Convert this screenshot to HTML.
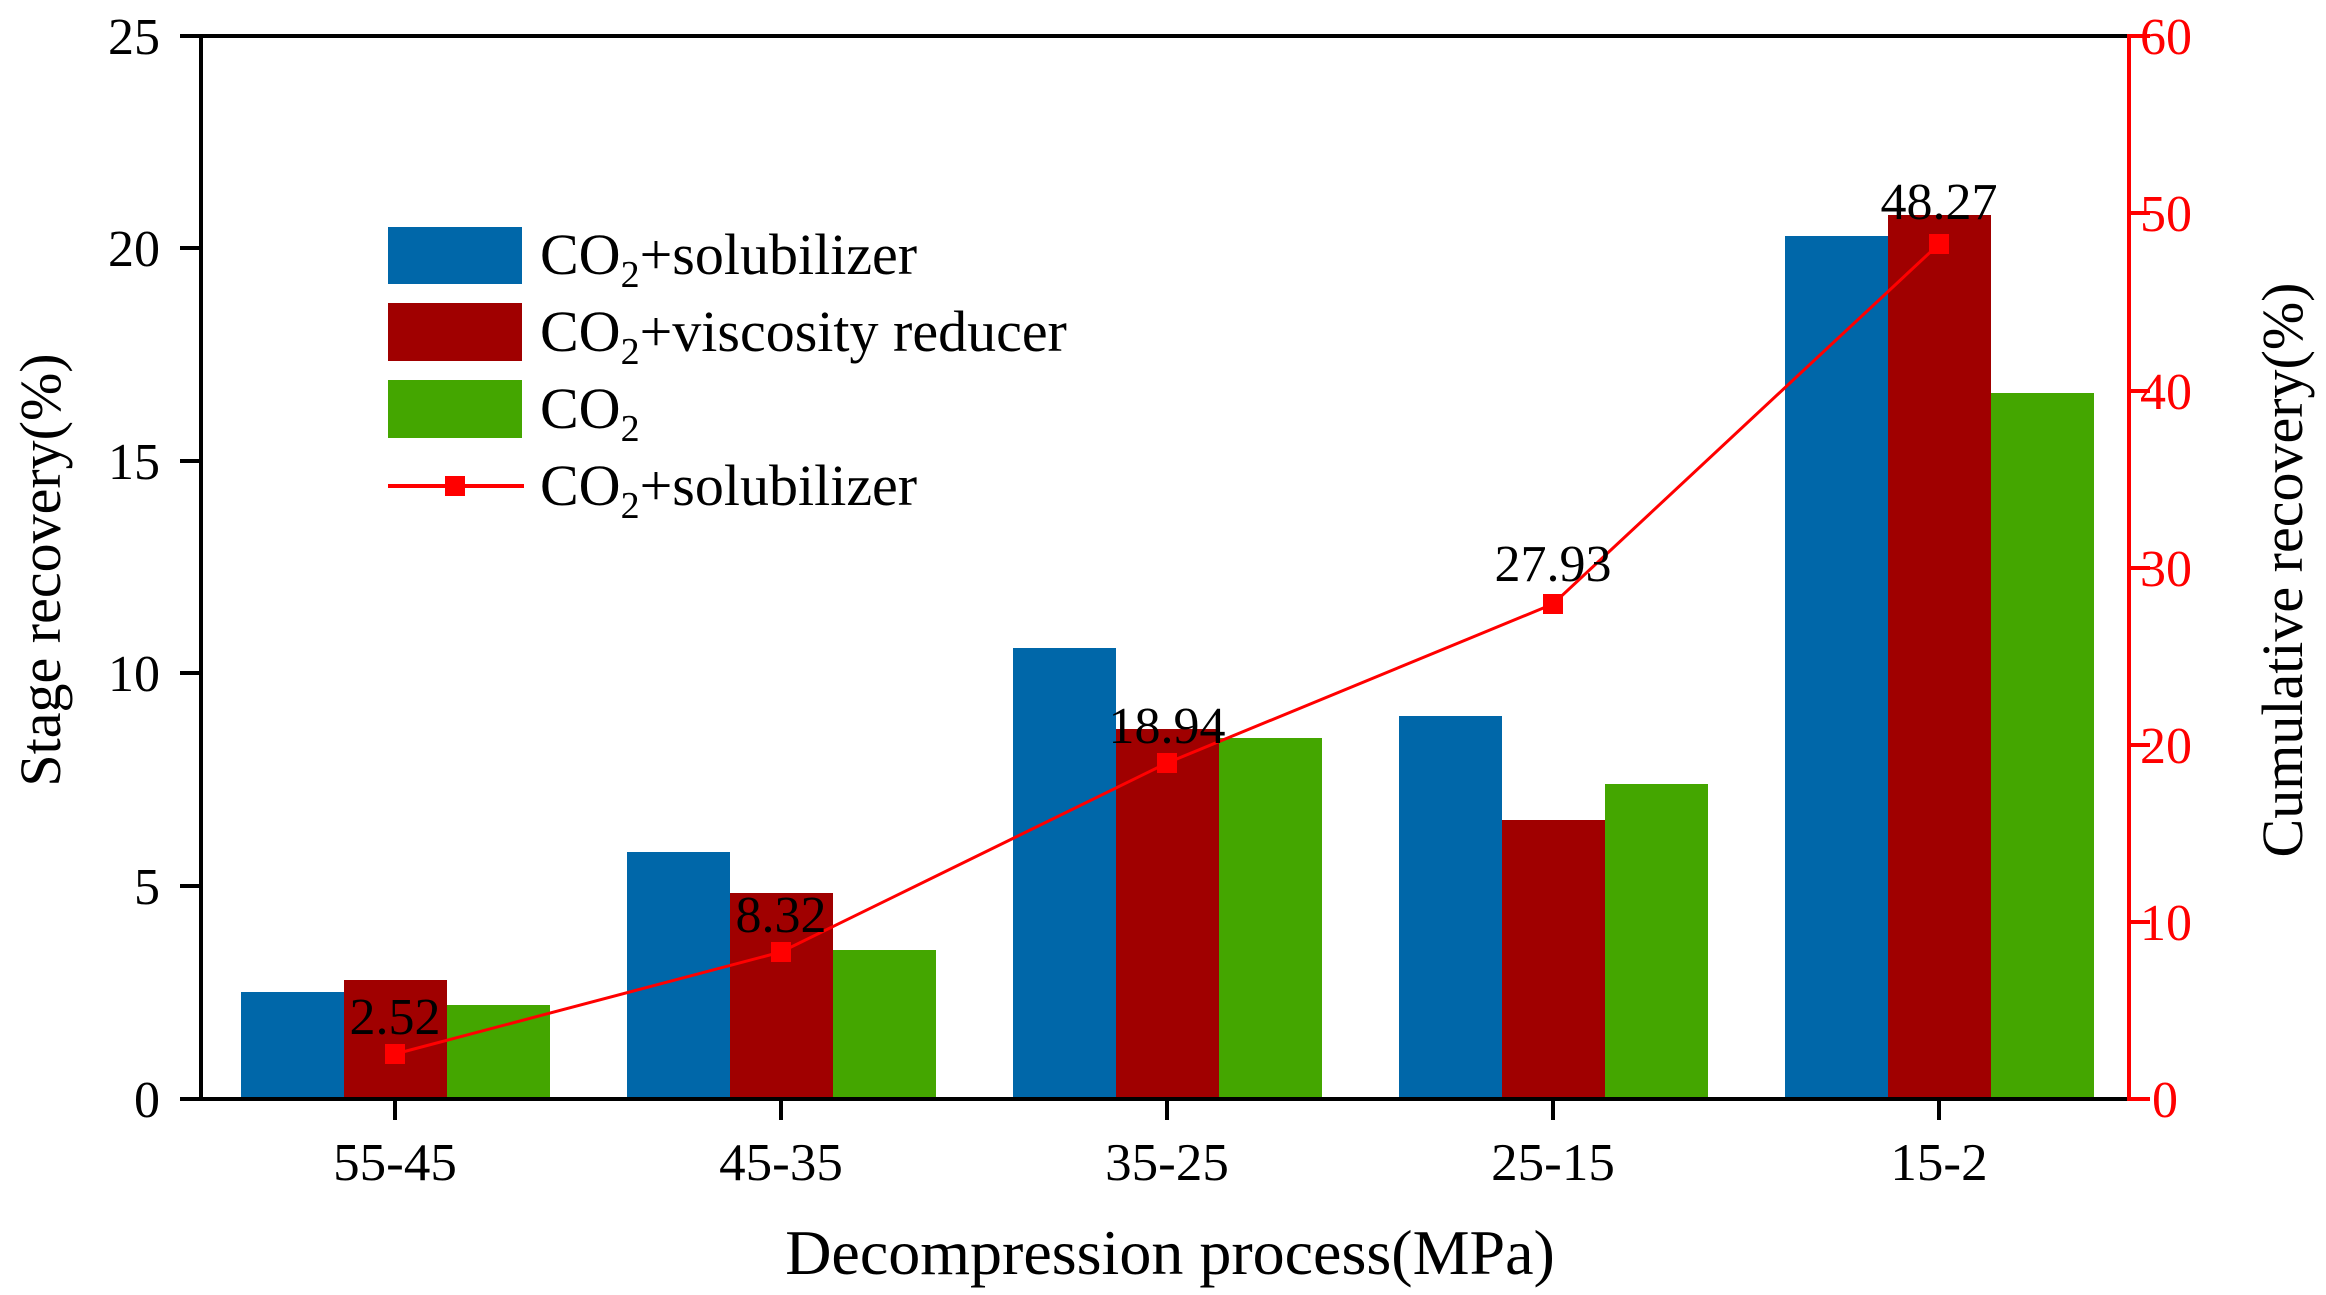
<!DOCTYPE html>
<html><head><meta charset="utf-8"><style>
html,body{margin:0;padding:0;background:#fff;}
svg{display:block;}
text{font-family:"Liberation Serif",serif;}
</style></head><body>
<svg width="2326" height="1295" viewBox="0 0 2326 1295" xmlns="http://www.w3.org/2000/svg">
<rect width="2326" height="1295" fill="#fff"/>
<g>
<rect x="241" y="992" width="103" height="107" fill="#0067a9"/>
<rect x="344" y="980" width="103" height="119" fill="#a00000"/>
<rect x="447" y="1005" width="103" height="94" fill="#44a600"/>
<rect x="627" y="852" width="103" height="247" fill="#0067a9"/>
<rect x="730" y="893" width="103" height="206" fill="#a00000"/>
<rect x="833" y="950" width="103" height="149" fill="#44a600"/>
<rect x="1013" y="648" width="103" height="451" fill="#0067a9"/>
<rect x="1116" y="729" width="103" height="370" fill="#a00000"/>
<rect x="1219" y="738" width="103" height="361" fill="#44a600"/>
<rect x="1399" y="716" width="103" height="383" fill="#0067a9"/>
<rect x="1502" y="820" width="103" height="279" fill="#a00000"/>
<rect x="1605" y="784" width="103" height="315" fill="#44a600"/>
<rect x="1785" y="236" width="103" height="863" fill="#0067a9"/>
<rect x="1888" y="215" width="103" height="884" fill="#a00000"/>
<rect x="1991" y="393" width="103" height="706" fill="#44a600"/>
</g>
<polyline points="395,1054 781,952 1167,763 1553,604 1939,244" fill="none" stroke="#ff0000" stroke-width="3"/>
<g fill="#ff0000">
<rect x="385" y="1044" width="20" height="20"/>
<rect x="771" y="942" width="20" height="20"/>
<rect x="1157" y="753" width="20" height="20"/>
<rect x="1543" y="594" width="20" height="20"/>
<rect x="1929" y="234" width="20" height="20"/>
</g>
<g font-size="52" text-anchor="middle" fill="#000">
<text x="395" y="1034">2.52</text>
<text x="781" y="932">8.32</text>
<text x="1167" y="743">18.94</text>
<text x="1553" y="581">27.93</text>
<text x="1939" y="219">48.27</text>
</g>
<g stroke="#000" stroke-width="4" fill="none">
<line x1="201" y1="36" x2="2129" y2="36"/>
<line x1="201" y1="34" x2="201" y2="1101"/>
<line x1="180" y1="1099" x2="2129" y2="1099"/>
<line x1="180" y1="36" x2="201" y2="36"/>
<line x1="180" y1="248" x2="201" y2="248"/>
<line x1="180" y1="461" x2="201" y2="461"/>
<line x1="180" y1="673" x2="201" y2="673"/>
<line x1="180" y1="886" x2="201" y2="886"/>
<line x1="395" y1="1099" x2="395" y2="1120"/>
<line x1="781" y1="1099" x2="781" y2="1120"/>
<line x1="1167" y1="1099" x2="1167" y2="1120"/>
<line x1="1553" y1="1099" x2="1553" y2="1120"/>
<line x1="1939" y1="1099" x2="1939" y2="1120"/>
</g>
<g stroke="#ff0000" stroke-width="4">
<line x1="2129" y1="34" x2="2129" y2="1101"/>
<line x1="2129" y1="36" x2="2150" y2="36"/>
<line x1="2129" y1="213" x2="2150" y2="213"/>
<line x1="2129" y1="391" x2="2150" y2="391"/>
<line x1="2129" y1="568" x2="2150" y2="568"/>
<line x1="2129" y1="745" x2="2150" y2="745"/>
<line x1="2129" y1="922" x2="2150" y2="922"/>
<line x1="2129" y1="1099" x2="2150" y2="1099"/>
</g>
<g font-size="52" text-anchor="end" fill="#000">
<text x="160" y="54">25</text>
<text x="160" y="266">20</text>
<text x="160" y="479">15</text>
<text x="160" y="691">10</text>
<text x="160" y="904">5</text>
<text x="160" y="1117">0</text>
</g>
<g font-size="52" text-anchor="start" fill="#ff0000">
<text x="2140" y="54">60</text>
<text x="2140" y="231">50</text>
<text x="2140" y="409">40</text>
<text x="2140" y="586">30</text>
<text x="2140" y="763">20</text>
<text x="2140" y="940">10</text>
<text x="2152" y="1117">0</text>
</g>
<g font-size="53" text-anchor="middle" fill="#000">
<text x="395" y="1180">55-45</text>
<text x="781" y="1180">45-35</text>
<text x="1167" y="1180">35-25</text>
<text x="1553" y="1180">25-15</text>
<text x="1939" y="1180">15-2</text>
</g>
<text x="1170" y="1274" font-size="64" text-anchor="middle">Decompression process(MPa)</text>
<text transform="translate(60,570) rotate(-90)" font-size="58" text-anchor="middle">Stage recovery(%)</text>
<text transform="translate(2302,570) rotate(-90)" font-size="58" text-anchor="middle">Cumulative recovery(%)</text>
<rect x="388" y="227" width="134" height="57" fill="#0067a9"/>
<rect x="388" y="303" width="134" height="58" fill="#a00000"/>
<rect x="388" y="380" width="134" height="58" fill="#44a600"/>
<line x1="388" y1="486" x2="524" y2="486" stroke="#ff0000" stroke-width="4"/>
<rect x="445" y="476" width="20" height="20" fill="#ff0000"/>
<g font-size="58" fill="#000">
<text x="540" y="274">CO<tspan font-size="38" dy="13">2</tspan><tspan dy="-13">+solubilizer</tspan></text>
<text x="540" y="351">CO<tspan font-size="38" dy="13">2</tspan><tspan dy="-13">+viscosity reducer</tspan></text>
<text x="540" y="428">CO<tspan font-size="38" dy="13">2</tspan></text>
<text x="540" y="505">CO<tspan font-size="38" dy="13">2</tspan><tspan dy="-13">+solubilizer</tspan></text>
</g>
</svg>
</body></html>
